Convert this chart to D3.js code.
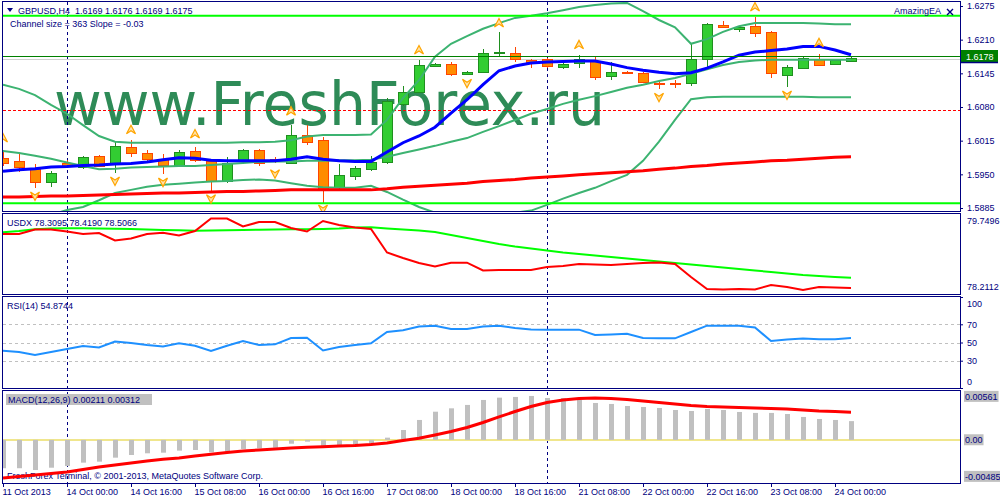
<!DOCTYPE html>
<html>
<head>
<meta charset="utf-8">
<script src="https://cdn.jsdelivr.net/npm/d3@7/dist/d3.min.js"></script>
<style>
html,body{margin:0;padding:0;background:#fff;}
svg{display:block;}
</style>
</head>
<body>
<svg id="chart" width="1000" height="500"></svg>
<script>
// ---------------- DATA ----------------
const xTickIdx = [0,4,8,12,16,20,24,28,32,36,40,44,48,52];
const xTickLabels = ["11 Oct 2013","14 Oct 00:00","14 Oct 16:00","15 Oct 08:00","16 Oct 00:00","16 Oct 16:00","17 Oct 08:00","18 Oct 00:00","18 Oct 16:00","21 Oct 08:00","22 Oct 00:00","22 Oct 16:00","23 Oct 08:00","24 Oct 00:00"];
const separatorIdx = [4, 34];

const open = [
 1.5982,1.5976,1.5960,1.5935,1.5972,1.5964,1.5986,1.5972,1.6003,1.5991,
 1.5980,1.5968,1.5995,1.5976,1.5937,1.5976,1.5997,1.5980,1.5972,1.6026,
 1.6016,1.5926,1.5947,1.5960,1.5974,1.6086,1.6109,1.6159,1.6163,1.6144,
 1.6148,1.6184,1.6184,1.6171,1.6173,1.6157,1.6165,1.6169,1.6140,1.6148,
 1.6146,1.6126,1.6126,1.6126,1.6173,1.6238,1.6231,1.6236,1.6225,1.6142,
 1.6155,1.6173,1.6163,1.6169];
const high = [
 1.5997,1.5991,1.5970,1.5957,1.5978,1.5986,1.5987,1.6014,1.6016,1.5997,
 1.5989,1.5997,1.6003,1.5980,1.5984,1.5999,1.5999,1.5984,1.6045,1.6045,
 1.6022,1.5970,1.5966,1.5986,1.6097,1.6121,1.6171,1.6165,1.6167,1.6150,
 1.6192,1.6225,1.6196,1.6173,1.6175,1.6171,1.6180,1.6177,1.6167,1.6150,
 1.6148,1.6132,1.6132,1.6204,1.6242,1.6246,1.6236,1.6254,1.6227,1.6161,
 1.6179,1.6182,1.6173,1.6176];
const low = [
 1.5966,1.5955,1.5924,1.5926,1.5962,1.5960,1.5964,1.5953,1.5984,1.5976,
 1.5951,1.5966,1.5974,1.5916,1.5933,1.5974,1.5966,1.5972,1.5970,1.6007,
 1.5895,1.5922,1.5939,1.5957,1.5970,1.6082,1.6107,1.6157,1.6140,1.6142,
 1.6146,1.6177,1.6167,1.6155,1.6155,1.6153,1.6155,1.6132,1.6132,1.6144,
 1.6126,1.6115,1.6117,1.6121,1.6157,1.6233,1.6225,1.6215,1.6136,1.6119,
 1.6153,1.6159,1.6161,1.6169];
const close = [
 1.5972,1.5964,1.5935,1.5953,1.5966,1.5984,1.5966,1.6005,1.5991,1.5980,
 1.5968,1.5993,1.5978,1.5937,1.5972,1.5997,1.5972,1.5976,1.6026,1.6013,
 1.5920,1.5949,1.5962,1.5974,1.6091,1.6109,1.6161,1.6163,1.6144,1.6148,
 1.6184,1.6186,1.6173,1.6167,1.6159,1.6163,1.6173,1.6138,1.6148,1.6146,
 1.6128,1.6125,1.6125,1.6173,1.6240,1.6235,1.6235,1.6223,1.6146,1.6157,
 1.6175,1.6161,1.6171,1.6175];

const maFast = [
 1.5956,1.5959,1.5961,1.5964,1.5965,1.5967,1.5968,1.5970,1.5971,1.5974,
 1.5978,1.5982,1.5981,1.5977,1.5976,1.5976,1.5976,1.5976,1.5979,1.5984,
 1.5979,1.5976,1.5975,1.5975,1.5993,1.6011,1.6024,1.6041,1.6068,1.6094,
 1.6123,1.6150,1.6159,1.6165,1.6167,1.6168,1.6169,1.6169,1.6163,1.6156,
 1.6151,1.6147,1.6144,1.6146,1.6155,1.6167,1.6180,1.6186,1.6189,1.6192,
 1.6197,1.6197,1.6190,1.6181];
const maSlow = [
 1.5906,1.5906,1.5907,1.5908,1.5908,1.5909,1.5910,1.5911,1.5912,1.5913,
 1.5914,1.5914,1.5915,1.5916,1.5917,1.5917,1.5918,1.5919,1.5920,1.5920,
 1.5920,1.5920,1.5920,1.5920,1.5922,1.5925,1.5927,1.5929,1.5931,1.5933,
 1.5936,1.5938,1.5940,1.5943,1.5945,1.5947,1.5949,1.5951,1.5953,1.5955,
 1.5957,1.5960,1.5962,1.5965,1.5967,1.5970,1.5972,1.5974,1.5976,1.5977,
 1.5979,1.5981,1.5983,1.5984];
const bandUpper = [
 1.6123,1.6115,1.6103,1.6084,1.6067,1.6045,1.6024,1.6013,1.6011,1.6011,
 1.6011,1.6011,1.6011,1.6011,1.6011,1.6012,1.6012,1.6013,1.6016,1.6023,
 1.6026,1.6026,1.6026,1.6027,1.6055,1.6097,1.6132,1.6177,1.6202,1.6217,
 1.6231,1.6242,1.6252,1.6256,1.6261,1.6267,1.6273,1.6277,1.6280,1.6281,
 1.6265,1.6248,1.6234,1.6202,1.6211,1.6225,1.6236,1.6242,1.6242,1.6242,
 1.6242,1.6241,1.6240,1.6240];
const bandMiddle = [
 1.5995,1.5991,1.5986,1.5980,1.5973,1.5966,1.5960,1.5961,1.5963,1.5964,
 1.5965,1.5966,1.5966,1.5968,1.5970,1.5972,1.5974,1.5975,1.5975,1.5976,
 1.5976,1.5977,1.5977,1.5978,1.5984,1.5991,1.5998,1.6005,1.6013,1.6020,
 1.6032,1.6043,1.6055,1.6067,1.6076,1.6086,1.6094,1.6101,1.6109,1.6117,
 1.6123,1.6130,1.6136,1.6144,1.6153,1.6161,1.6167,1.6170,1.6171,1.6171,
 1.6171,1.6171,1.6171,1.6171];
const bandLower = [
 1.5843,1.5852,1.5862,1.5872,1.5881,1.5887,1.5900,1.5914,1.5920,1.5926,
 1.5930,1.5932,1.5934,1.5936,1.5937,1.5939,1.5940,1.5938,1.5933,1.5928,
 1.5925,1.5924,1.5924,1.5928,1.5916,1.5901,1.5887,1.5876,1.5868,1.5864,
 1.5866,1.5870,1.5876,1.5880,1.5891,1.5903,1.5914,1.5924,1.5937,1.5949,
 1.5976,1.6013,1.6055,1.6095,1.6099,1.6100,1.6100,1.6100,1.6100,1.6100,
 1.6100,1.6099,1.6099,1.6099];

const fractalUpIdx = [0,8,12,18,26,31,36,47,51];
const fractalUpPrice = [1.6020,1.6036,1.6028,1.6072,1.6190,1.6242,1.6200,1.6273,1.6204];
const fractalDnIdx = [2,7,10,13,17,20,29,41,49];
const fractalDnPrice = [1.5908,1.5937,1.5935,1.5903,1.5951,1.5883,1.6126,1.6099,1.6103];

const greenLevels = [1.6256, 1.5894];
const bidLevel = 1.6178;
const askLevel = 1.6173;
const redDashLevel = 1.6075;
const priceTicks = [1.6275,1.6210,1.6145,1.6080,1.6015,1.5950,1.5885];

const usdxRed = [
 79.360,79.360,79.448,79.448,79.409,79.360,79.380,79.234,79.273,79.360,
 79.386,79.331,79.419,79.662,79.662,79.506,79.594,79.594,79.477,79.409,
 79.613,79.535,79.487,79.458,79.000,78.893,78.795,78.727,78.801,78.801,
 78.649,78.659,78.659,78.659,78.718,78.737,78.776,78.766,78.757,78.776,
 78.795,78.805,78.776,78.523,78.289,78.279,78.289,78.279,78.367,78.328,
 78.270,78.328,78.318,78.3095];
const usdxGreen = [
 79.393,79.419,79.452,79.467,79.471,79.471,79.467,79.461,79.458,79.448,
 79.438,79.432,79.424,79.428,79.432,79.438,79.442,79.448,79.452,79.454,
 79.458,79.467,79.487,79.491,79.467,79.448,79.428,79.399,79.341,79.282,
 79.224,79.165,79.117,79.078,79.039,79.000,78.971,78.942,78.912,78.883,
 78.854,78.825,78.795,78.766,78.737,78.708,78.679,78.649,78.620,78.591,
 78.562,78.542,78.523,78.5066];
const usdxTicks = [79.7496, 78.2112];

const rsi = [
 41.0,39.6,36.3,39.6,42.9,46.2,44.5,51.1,49.5,47.3,
 45.6,49.1,46.5,40.7,46.5,51.6,47.3,48.0,54.9,55.3,
 41.2,45.1,47.3,49.1,61.5,63.4,67.6,68.5,64.8,64.8,
 67.6,68.5,65.9,64.3,64.1,64.1,64.1,58.2,58.8,59.7,
 54.9,54.6,54.6,61.5,68.5,68.5,68.5,66.5,51.6,53.3,
 54.4,53.5,53.5,54.87];
const rsiTicks = [100,70,50,30,0];
const rsiLevels = [70,50,30];

const macdHist = [
 -0.00319,-0.00319,-0.00339,-0.00313,-0.00294,-0.00256,-0.00245,-0.00200,-0.00170,-0.00151,
 -0.00144,-0.00121,-0.00114,-0.00139,-0.00133,-0.00102,-0.00094,-0.00088,-0.00043,-0.00020,
 -0.00069,-0.00076,-0.00069,-0.00057,0.00025,0.00111,0.00224,0.00317,0.00355,0.00393,
 0.00449,0.00475,0.00483,0.00494,0.00471,0.00471,0.00449,0.00415,0.00404,0.00381,
 0.00370,0.00359,0.00336,0.00325,0.00348,0.00336,0.00314,0.00303,0.00303,0.00291,
 0.00258,0.00235,0.00224,0.00211];
const macdSignal = [
 -0.00429,-0.00412,-0.00395,-0.00378,-0.00361,-0.00333,-0.00305,-0.00282,-0.00260,-0.00237,
 -0.00218,-0.00204,-0.00181,-0.00162,-0.00142,-0.00125,-0.00114,-0.00102,-0.00091,-0.00083,
 -0.00076,-0.00069,-0.00063,-0.00052,-0.00035,-0.00007,0.00018,0.00055,0.00094,0.00139,
 0.00196,0.00258,0.00319,0.00376,0.00421,0.00449,0.00466,0.00471,0.00466,0.00454,
 0.00438,0.00421,0.00404,0.00387,0.00376,0.00370,0.00364,0.00359,0.00353,0.00348,
 0.00336,0.00325,0.00319,0.00312];
const macdTicks = [0.00561, 0, -0.00485];

// ---------------- LAYOUT ----------------
const FONT = '"Liberation Sans", Arial, sans-serif';
const NAVY = '#000080';
const L = 3, R = 960;
const P = {
  main: {top: 2,   bottom: 211},
  usdx: {top: 214, bottom: 293},
  rsi:  {top: 297, bottom: 388},
  macd: {top: 390, bottom: 483}
};
const n = close.length;

const svg = d3.select('#chart');
svg.append('rect').attr('width',1000).attr('height',500).attr('fill','#fff');
const defs = svg.append('defs');
function clip(id, p){
  defs.append('clipPath').attr('id',id).append('rect')
    .attr('x',L).attr('y',p.top).attr('width',R-L).attr('height',p.bottom-p.top);
}
clip('cMain',P.main); clip('cUsdx',P.usdx); clip('cRsi',P.rsi); clip('cMacd',{top:391,bottom:483});

// scales
const x = d3.scaleLinear().domain([0, 53]).range([3, 851]);
const yP = d3.scaleLinear().domain([1.5885, 1.6275]).range([208, 6]);
const yU = d3.scaleLinear().domain([78.2112, 79.7496]).range([P.usdx.bottom, P.usdx.top]);
const yR = d3.scaleLinear().domain([0, 100]).range([P.rsi.bottom, P.rsi.top]);
const yM = d3.scaleLinear().domain([-0.00485, 0.00561]).range([P.macd.bottom, P.macd.top]);

function txt(parent, t, xx, yy, color){
  return parent.append('text').attr('x',xx).attr('y',yy)
    .attr('font-family',FONT).attr('font-size',9).attr('fill',color||NAVY)
    .style('white-space','pre').text(t);
}

// watermark
svg.append('text').attr('x',54).attr('y',125)
  .attr('font-family','"DejaVu Sans", Verdana, sans-serif').attr('font-size',60)
  .attr('textLength',551).attr('lengthAdjust','spacingAndGlyphs')
  .attr('fill','#2e8b57').text('www.FreshForex.ru');

// period separators
svg.append('g').selectAll('line').data(separatorIdx).join('line')
  .attr('x1',d=>Math.round(x(d))+0.5).attr('x2',d=>Math.round(x(d))+0.5)
  .attr('y1',2).attr('y2',483).attr('stroke',NAVY).attr('stroke-dasharray','3,3');

// ---------------- MAIN PANEL ----------------
const gMain = svg.append('g').attr('clip-path','url(#cMain)');

gMain.append('line').attr('x1',L).attr('x2',R).attr('y1',Math.round(yP(redDashLevel))+0.5).attr('y2',Math.round(yP(redDashLevel))+0.5)
  .attr('stroke','#ff0000').attr('stroke-dasharray','3,2');
gMain.append('line').attr('x1',L).attr('x2',R).attr('y1',Math.round(yP(askLevel))+0.5).attr('y2',Math.round(yP(askLevel))+0.5)
  .attr('stroke','#d0d0d0');

// candles
const candles = gMain.append('g');
for (let i = 0; i < n; i++) {
  const cx = Math.round(x(i));
  const bull = close[i] >= open[i];
  const fill = bull ? '#32cd32' : '#ff8c00';
  const stroke = bull ? '#1f8f1f' : '#ff4500';
  candles.append('line').attr('x1',cx+0.5).attr('x2',cx+0.5)
    .attr('y1',Math.round(yP(high[i]))).attr('y2',Math.round(yP(low[i])))
    .attr('stroke',stroke);
  const yt = Math.round(yP(Math.max(open[i],close[i])));
  const yb = Math.round(yP(Math.min(open[i],close[i])));
  candles.append('rect').attr('x',cx-4.5).attr('y',yt+0.5)
    .attr('width',10).attr('height',Math.max(1,yb-yt))
    .attr('fill',fill).attr('stroke',stroke);
}

// bands and moving averages
const lineP = arr => d3.line().x((d,i)=>x(i)).y(d=>yP(d))(arr);
[bandUpper, bandMiddle, bandLower].forEach(b => {
  gMain.append('path').attr('d',lineP(b)).attr('fill','none')
    .attr('stroke','#3cb371').attr('stroke-width',2);
});
gMain.append('path').attr('d',lineP(maSlow)).attr('fill','none').attr('stroke','#ff0000').attr('stroke-width',3);
gMain.append('path').attr('d',lineP(maFast)).attr('fill','none').attr('stroke','#0000ff').attr('stroke-width',3);

// level lines
greenLevels.forEach(v => {
  gMain.append('line').attr('x1',L).attr('x2',R).attr('y1',yP(v)).attr('y2',yP(v))
    .attr('stroke','#00ff00').attr('stroke-width',2);
});
gMain.append('line').attr('x1',L).attr('x2',R).attr('y1',Math.round(yP(bidLevel))+0.5).attr('y2',Math.round(yP(bidLevel))+0.5)
  .attr('stroke','#008000');

// fractals
const upPath = 'M0,-4.5L4.5,4L0,1L-4.5,4Z';
const dnPath = 'M0,4.5L4.5,-4L0,-1L-4.5,-4Z';
fractalUpIdx.forEach((idx,k) => {
  gMain.append('path').attr('d',upPath).attr('transform',`translate(${x(idx)},${yP(fractalUpPrice[k])})`)
    .attr('fill','#ffe2a8').attr('stroke','#ffa500').attr('stroke-width',1.2);
});
fractalDnIdx.forEach((idx,k) => {
  gMain.append('path').attr('d',dnPath).attr('transform',`translate(${x(idx)},${yP(fractalDnPrice[k])})`)
    .attr('fill','#ffe2a8').attr('stroke','#ffa500').attr('stroke-width',1.2);
});

// header texts
svg.append('path').attr('d','M7,8L13,8L10,12Z').attr('fill',NAVY);
txt(svg, 'GBPUSD,H4  1.6169 1.6176 1.6169 1.6175', 18, 14);
txt(svg, 'Channel size = 363 Slope = -0.03', 10, 27);
txt(svg, 'AmazingEA', 894, 14);
svg.append('path').attr('d','M947,9L953,15M953,9L947,15').attr('stroke',NAVY).attr('stroke-width',1.4);

// ---------------- USDX PANEL ----------------
const gU = svg.append('g').attr('clip-path','url(#cUsdx)');
const lineU = arr => d3.line().x((d,i)=>x(i)).y(d=>yU(d))(arr);
gU.append('path').attr('d',lineU(usdxGreen)).attr('fill','none').attr('stroke','#00ff00').attr('stroke-width',2);
gU.append('path').attr('d',lineU(usdxRed)).attr('fill','none').attr('stroke','#ff0000').attr('stroke-width',2);
txt(svg, 'USDX 78.3095 78.4190 78.5066', 7, 226);

// ---------------- RSI PANEL ----------------
const gR = svg.append('g').attr('clip-path','url(#cRsi)');
rsiLevels.forEach(v => {
  gR.append('line').attr('x1',L).attr('x2',R+2).attr('y1',Math.round(yR(v))+0.5).attr('y2',Math.round(yR(v))+0.5)
    .attr('stroke','#c0c0c0').attr('stroke-dasharray','3,3');
});
gR.append('path').attr('d',d3.line().x((d,i)=>x(i)).y(d=>yR(d))(rsi))
  .attr('fill','none').attr('stroke','#1e90ff').attr('stroke-width',2);
txt(svg, 'RSI(14) 54.8744', 7, 309);

// ---------------- MACD PANEL ----------------
txt(svg, 'FreshForex Terminal, \u00a9 2001-2013, MetaQuotes Software Corp.', 7, 479);
const gM = svg.append('g').attr('clip-path','url(#cMacd)');
gM.append('line').attr('x1',L).attr('x2',R).attr('y1',yM(0)).attr('y2',yM(0))
  .attr('stroke','#f0e68c').attr('stroke-width',2);
gM.selectAll('rect.h').data(macdHist).join('rect').attr('class','h')
  .attr('x',(d,i)=>Math.round(x(i))-2).attr('width',5)
  .attr('y',d=>Math.min(yM(0),yM(d))).attr('height',d=>Math.abs(yM(d)-yM(0)))
  .attr('fill','#c0c0c0');
gM.append('path').attr('d',d3.line().x((d,i)=>x(i)).y(d=>yM(d))(macdSignal))
  .attr('fill','none').attr('stroke','#ff0000').attr('stroke-width',3);
svg.append('rect').attr('x',6).attr('y',394).attr('width',146).attr('height',11).attr('fill','#c0c0c0');
txt(svg, 'MACD(12,26,9) 0.00211 0.00312', 8, 403);

// ---------------- FRAMES ----------------
const frames = svg.append('g').attr('fill','none').attr('stroke',NAVY);
frames.append('rect').attr('x',2.5).attr('y',1.5).attr('width',958).attr('height',210);
frames.append('rect').attr('x',2.5).attr('y',213.5).attr('width',958).attr('height',81);
frames.append('rect').attr('x',2.5).attr('y',296.5).attr('width',958).attr('height',92);
frames.append('rect').attr('x',2.5).attr('y',390.5).attr('width',958).attr('height',93);

// ---------------- AXES ----------------
function styleAxis(g, p){
  g.attr('font-family',FONT).attr('font-size',9);
  g.select('.domain').remove();
  g.selectAll('line').attr('stroke',NAVY);
  g.selectAll('text').attr('fill',NAVY);
  if (p) {
    g.selectAll('.tick').each(function(){
      const tr = d3.select(this).attr('transform');
      const ty = +tr.match(/,\s*([-\d.]+)/)[1];
      const ly = Math.max(p.top+7, Math.min(p.bottom-6, ty));
      d3.select(this).select('text').attr('y', ly-ty);
    });
  }
}
const axMain = svg.append('g').attr('transform',`translate(${R},0)`)
  .call(d3.axisRight(yP).tickValues(priceTicks).tickFormat(d3.format('.4f')).tickSize(3).tickPadding(4));
styleAxis(axMain);

const axU = svg.append('g').attr('transform',`translate(${R},0)`)
  .call(d3.axisRight(yU).tickValues(usdxTicks).tickFormat(d3.format('.4f')).tickSize(0).tickPadding(7));
styleAxis(axU, P.usdx);

const axR = svg.append('g').attr('transform',`translate(${R},0)`)
  .call(d3.axisRight(yR).tickValues(rsiTicks).tickFormat(d3.format('d')).tickSize(3).tickPadding(4));
styleAxis(axR, P.rsi);

const axM = svg.append('g').attr('transform',`translate(${R},0)`)
  .call(d3.axisRight(yM).tickValues(macdTicks).tickFormat(d => d === 0 ? '0.00' : d.toFixed(5)).tickSize(0).tickPadding(5));
styleAxis(axM, P.macd);
axM.selectAll('.tick').each(function(){
  const t = d3.select(this).select('text');
  const bb = t.node().getBBox();
  d3.select(this).insert('rect','text').attr('x',bb.x-1).attr('y',bb.y-1)
    .attr('width',bb.width+2).attr('height',bb.height+1).attr('fill','#c0c0c0');
});

// current price label
const by = Math.round(yP(bidLevel));
svg.append('rect').attr('x',961).attr('y',by-6).attr('width',37).attr('height',12).attr('fill','#008000');
svg.append('line').attr('x1',961).attr('x2',998).attr('y1',by+6.5).attr('y2',by+6.5).attr('stroke',NAVY).attr('stroke-width',1.5);
txt(svg, d3.format('.4f')(bidLevel), 966, by+3.5, '#ffffff');

// x axis
svg.append('line').attr('x1',2).attr('x2',R+1).attr('y1',483.5).attr('y2',483.5).attr('stroke',NAVY);
const axX = svg.append('g').attr('transform','translate(0,483)')
  .call(d3.axisBottom(x).tickValues(xTickIdx).tickFormat((d,i)=>xTickLabels[i]).tickSize(4).tickPadding(2));
styleAxis(axX);
axX.selectAll('text').attr('text-anchor','start').attr('x',-1);
</script>
</body>
</html>
